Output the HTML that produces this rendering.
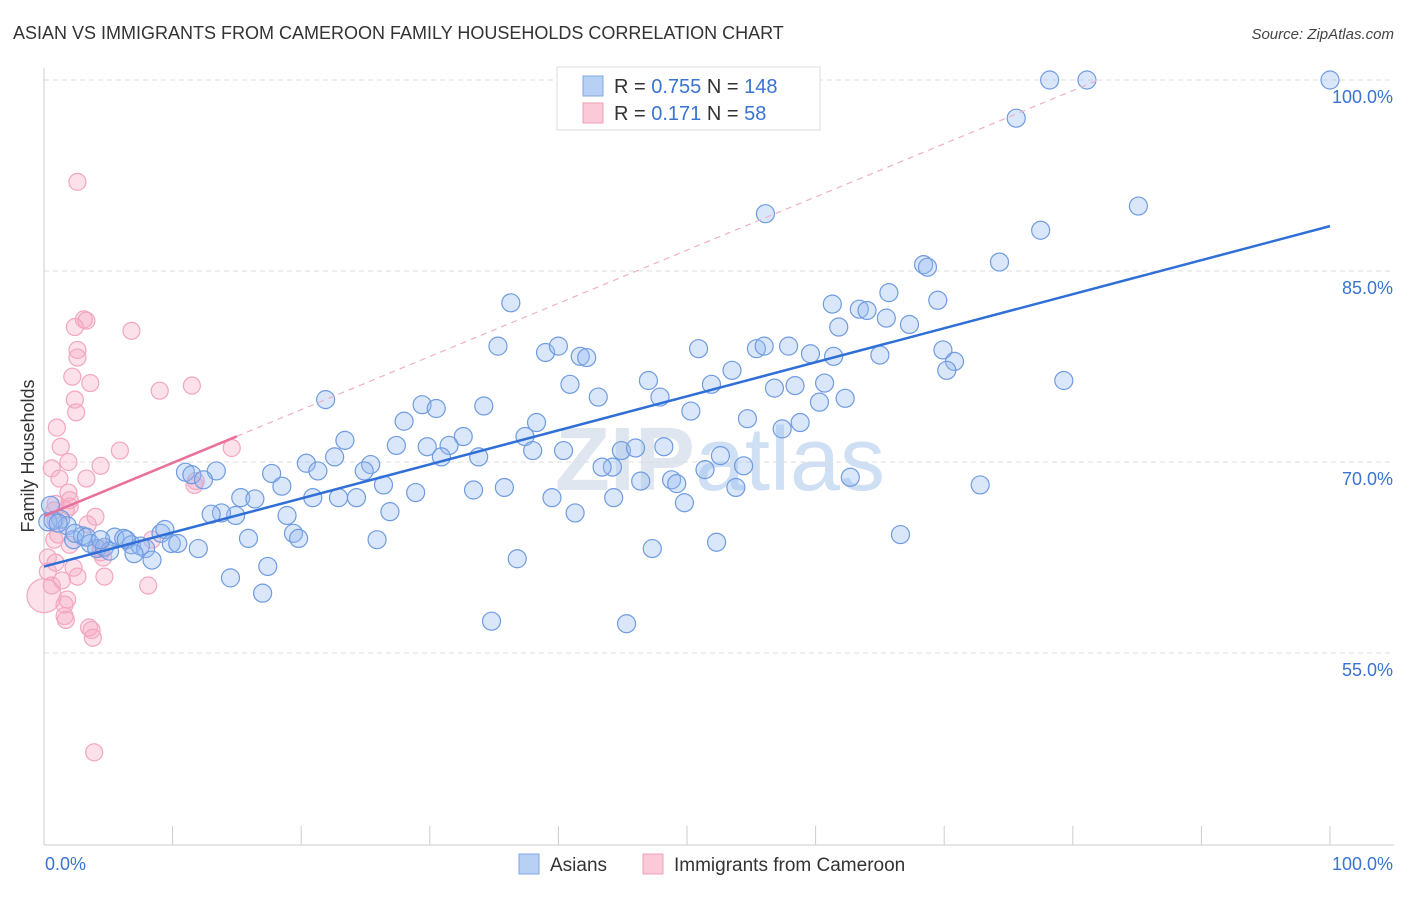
<!DOCTYPE html>
<html><head><meta charset="utf-8"><style>
body{margin:0;background:#fff;font-family:"Liberation Sans",sans-serif}
svg text{font-family:"Liberation Sans",sans-serif}
</style></head><body>
<svg id="chart" width="1406" height="892" xmlns="http://www.w3.org/2000/svg">
<text x="13" y="39" font-size="18" fill="#333">ASIAN VS IMMIGRANTS FROM CAMEROON FAMILY HOUSEHOLDS CORRELATION CHART</text>
<text x="1394" y="39" font-size="15" fill="#444" text-anchor="end" font-style="italic">Source: ZipAtlas.com</text>
<text x="720" y="490" font-size="90" fill="#dfe6ef" text-anchor="middle" font-weight="bold">ZIP<tspan fill="#cfe0f5" font-weight="normal">atlas</tspan></text>
<g id="grid"></g>
<g id="axes"></g>
<g id="pink"></g>
<g id="blue"></g>
<g id="lines"></g>
<text transform="translate(34,456) rotate(-90)" font-size="18" fill="#333" text-anchor="middle">Family Households</text>
<g>
<rect x="557" y="67" width="263" height="63" fill="#fff" stroke="#ddd"/>
<rect x="583" y="76" width="20" height="20" fill="#b8d0f3" stroke="#7fa8e6"/>
<rect x="583" y="103" width="20" height="20" fill="#fbc9d8" stroke="#f0a0b8"/>
<text x="614" y="93" font-size="20" fill="#333">R = <tspan fill="#3b73d1">0.755</tspan>   N = <tspan fill="#3b73d1">148</tspan></text>
<text x="614" y="120" font-size="20" fill="#333">R =   <tspan fill="#3b73d1">0.171</tspan>   N =   <tspan fill="#3b73d1">58</tspan></text>
</g>
<g>
<rect x="519" y="854" width="20" height="20" fill="#b8d0f3" stroke="#7fa8e6"/>
<text x="550" y="871" font-size="19" fill="#333">Asians</text>
<rect x="643" y="854" width="20" height="20" fill="#fbc9d8" stroke="#f0a0b8"/>
<text x="674" y="871" font-size="19" fill="#333">Immigrants from Cameroon</text>
</g>
</svg>
<script>
const yTicks=[55,70,85,100];
const yTickLabels=["55.0%","70.0%","85.0%","100.0%"];
const xTicks=[0,10,20,30,40,50,60,70,80,90,100];
const blueX=[100,78.2,81.1,75.6,56.1,85.1,77.5,68.4,68.7,74.3,36.3,65.7,69.5,61.3,63.4,64.0,65.5,67.3,61.8,35.3,39.0,40.0,41.7,42.2,50.9,55.4,56.0,57.9,59.6,61.4,65.0,69.9,70.8,70.2,79.3,40.9,43.1,47.0,47.9,51.9,53.5,56.8,58.4,60.7,60.3,62.3,21.9,29.4,30.5,34.2,28.0,38.3,37.4,23.4,27.4,29.8,32.6,31.5,30.9,33.8,38.0,40.4,44.9,46.0,48.2,54.7,50.3,58.8,57.4,52.6,54.4,51.4,44.2,43.4,22.6,20.4,25.4,24.9,21.3,11.0,11.5,13.4,12.4,17.7,18.5,26.4,28.9,33.4,35.8,39.5,46.4,48.8,49.2,53.8,62.7,72.8,15.3,16.4,20.9,22.9,24.3,14.9,13.8,13.0,18.9,26.9,41.3,44.3,49.8,9.1,9.4,15.9,19.4,19.8,25.9,47.3,52.3,66.6,5.5,6.2,6.8,7.5,7.9,8.4,9.9,10.4,12.0,1.3,0.5,0.3,1.8,2.3,3.0,3.6,4.1,4.7,5.1,17.4,14.5,17.0,34.8,45.3,36.8,0.7,1.1,2.4,3.3,4.4,6.4,7.0];
const blueY=[100,100,100,97.0,89.5,90.1,88.2,85.5,85.3,85.7,82.5,83.3,82.7,82.4,82.0,81.9,81.3,80.8,80.6,79.1,78.6,79.1,78.3,78.2,78.9,78.9,79.1,79.1,78.5,78.3,78.4,78.8,77.9,77.2,76.4,76.1,75.1,76.4,75.1,76.1,77.2,75.8,76.0,76.2,74.7,75.0,74.9,74.5,74.2,74.4,73.2,73.1,72.0,71.7,71.3,71.2,72.0,71.3,70.4,70.4,70.9,70.9,70.9,71.1,71.2,73.4,74.0,73.1,72.6,70.5,69.7,69.4,69.6,69.6,70.4,69.9,69.8,69.3,69.3,69.2,69.0,69.3,68.6,69.1,68.1,68.2,67.6,67.8,68.0,67.2,68.5,68.6,68.3,68.0,68.8,68.2,67.2,67.1,67.2,67.2,67.2,65.8,66.0,65.9,65.8,66.1,66.0,67.2,66.8,64.4,64.7,64.0,64.4,64.0,63.9,63.2,63.7,64.3,64.1,64.0,63.5,63.4,63.2,62.3,63.6,63.6,63.2,65.5,66.6,65.3,65.0,63.9,64.2,63.6,63.2,63.3,63.0,61.8,60.9,59.7,57.5,57.3,62.4,65.4,65.2,64.4,64.1,63.9,63.9,62.8];
const pinkX=[2.6,3.1,3.3,2.4,6.8,2.6,2.6,2.2,3.6,9.0,11.5,2.4,2.5,1.0,1.3,5.9,14.6,4.4,1.9,0.6,1.2,3.3,11.8,11.7,1.9,2.0,2.0,0.9,0.8,1.7,4.0,3.4,1.1,0.8,2.0,4.4,4.6,0.3,0.9,2.3,2.6,4.7,1.4,0.6,8.1,1.8,1.6,1.6,1.7,3.5,3.7,3.8,3.9,0.3,4.4,8.4,0.9,0];
const pinkY=[92.0,81.2,81.1,80.6,80.3,78.8,78.2,76.7,76.2,75.6,76.0,74.9,73.9,72.7,71.2,70.9,71.1,69.7,70.0,69.5,68.7,68.7,68.5,68.2,67.6,67.0,66.5,66.7,66.2,66.2,65.7,65.1,64.3,63.9,63.5,62.9,62.5,62.5,62.1,61.7,61.0,61.0,60.7,60.3,60.3,59.2,58.8,57.9,57.6,57.0,56.8,56.2,47.2,61.4,63.2,63.9,65.4,59.5];
const NS="http://www.w3.org/2000/svg";
const X0=44,X1=1330;
function sx(v){return X0+(X1-X0)*v/100;}
function sy(v){return 80+(100-v)*191/15;}
function mk(t,a,p){const e=document.createElementNS(NS,t);for(const k in a)e.setAttribute(k,a[k]);p.appendChild(e);return e;}
const grid=document.getElementById('grid'),axes=document.getElementById('axes');
yTicks.forEach((t,i)=>{
 const g=mk('line',{x1:X0,x2:1394,y1:sy(t),y2:sy(t),stroke:'#ddd','stroke-dasharray':'5,4'},grid);
 
 
 const l=mk('text',{x:1393,y:sy(t)+23,'font-size':18,fill:'#3b73d1','text-anchor':'end'},axes);
 l.textContent=yTickLabels[i];
 
 
});
mk('line',{x1:X0,x2:X0,y1:68,y2:845,stroke:'#ccc'},axes);
mk('line',{x1:X0,x2:1394,y1:845,y2:845,stroke:'#ccc'},axes);
xTicks.forEach(t=>{
 const k=mk('line',{x1:sx(t),x2:sx(t),y1:826,y2:845,stroke:'#ccc'},axes);
 
 
});
const xl0=mk('text',{x:45,y:870,'font-size':18,fill:'#3b73d1'},axes);xl0.textContent='0.0%';


const xl1=mk('text',{x:1393,y:870,'font-size':18,fill:'#3b73d1','text-anchor':'end'},axes);xl1.textContent='100.0%';


const pg=document.getElementById('pink'),bg=document.getElementById('blue');
pinkX.forEach((x,i)=>{
 const c=mk('circle',{cx:sx(x),cy:sy(pinkY[i]),r:i===pinkX.length-1?17:8.5,fill:'rgba(247,170,195,0.35)',stroke:'#f2a6bf','stroke-width':1.2},pg);
 
 
});
blueX.forEach((x,i)=>{
 const c=mk('circle',{cx:sx(x),cy:sy(blueY[i]),r:9,fill:'rgba(150,185,240,0.35)',stroke:'#6f9be0','stroke-width':1.2},bg);
 
 
});
function fit(xs,ys){const n=xs.length;let mx=0,my=0;for(let i=0;i<n;i++){mx+=xs[i];my+=ys[i];}mx/=n;my/=n;let a=0,b=0;for(let i=0;i<n;i++){a+=(xs[i]-mx)*(ys[i]-my);b+=(xs[i]-mx)**2;}const s=a/b;return[s,my-s*mx];}
const lg=document.getElementById('lines');
const [bs,bi]=fit(blueX,blueY);
const bl=mk('line',{x1:sx(0),y1:sy(bi),x2:sx(100),y2:sy(bi+bs*100),stroke:'#2f6fd6','stroke-width':2.5},lg);


const [ps,pi]=fit(pinkX,pinkY);
const xe=Math.min(100,(100-pi)/ps);
const pd=mk('line',{x1:sx(15),y1:sy(pi+ps*15),x2:sx(xe),y2:sy(pi+ps*xe),stroke:'#eeb0c4','stroke-width':1.2,'stroke-dasharray':'6,5'},lg);


const pl=mk('line',{x1:sx(0),y1:sy(pi),x2:sx(15),y2:sy(pi+ps*15),stroke:'#e8709a','stroke-width':2.5},lg);


</script>
</body></html>
